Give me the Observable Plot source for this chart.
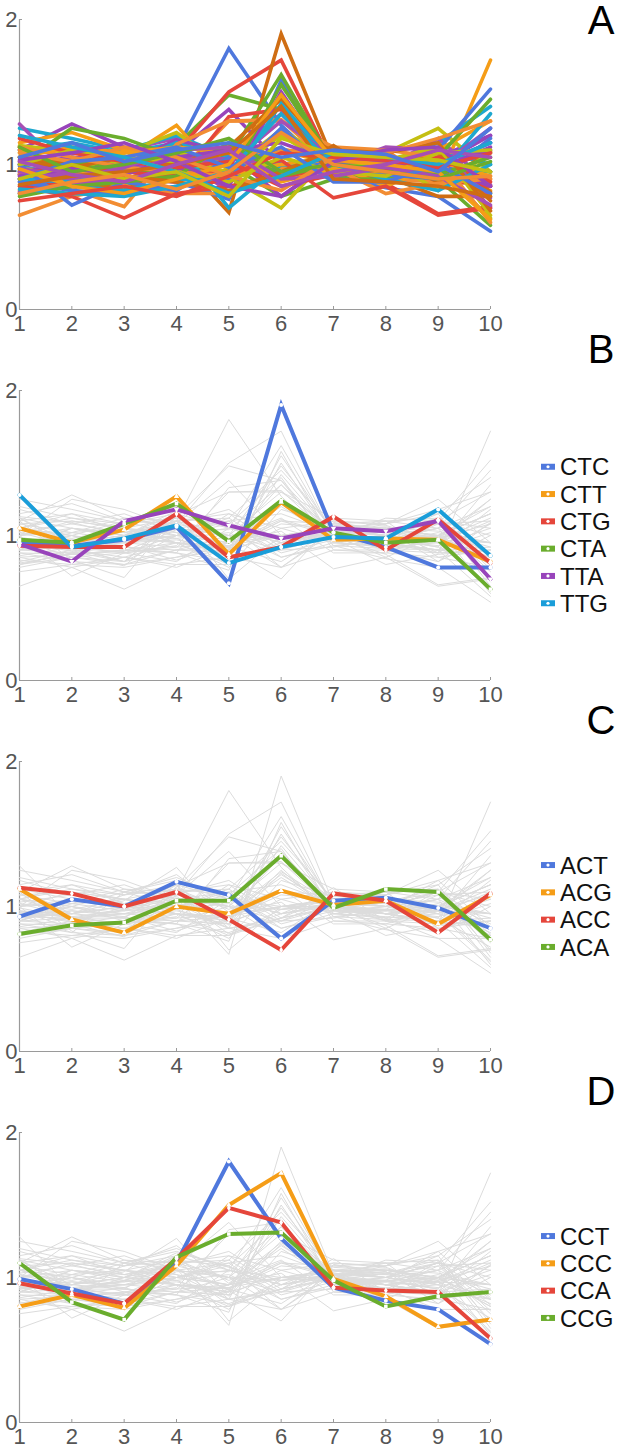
<!DOCTYPE html>
<html>
<head>
<meta charset="utf-8">
<script src="https://cdn.jsdelivr.net/npm/d3@7"></script>
<script src="https://cdn.jsdelivr.net/npm/@observablehq/plot@0.6"></script>
<style>
  html, body { margin: 0; padding: 0; background: #fff; }
  #wrap { position: relative; width: 617px; height: 1451px; overflow: hidden; font-family: "Liberation Sans", Arial, sans-serif; }
  #wrap > svg { position: absolute; left: 0; }
</style>
</head>
<body>
<div id="wrap"></div>
<script>
// ---- data ----
const positions = [1, 2, 3, 4, 5, 6, 7, 8, 9, 10];
const yTicks = [0, 1, 2];

// codons in plotting order of panel A
const codons = [
  "CCT","ATT","CCA","CCC","GTT","CTC","ATA","GTG","TTA","GTA",
  "TTT","CTT","TTC","GTC","TCG","CTG","GCC","CTA","TTG","TCA",
  "ATC","GCT","AGT","TCT","ACT","ACG","GCA","ACC","ACA","CCG",
  "AGC","ATG","GCG","TCC","TAT","TAC","CAT","CAC","CAA","CAG",
  "AAT","AAC","AAA","AAG","GAT","GAC","GAA","GAG","TGT","TGC",
  "TGG","CGT","CGC","CGA","CGG","AGA","AGG","GGT","GGC","GGA","GGG"
];

// ratio per codon at positions 1..10 (same order as codons)
const ratios = [
  [0.99, 0.92, 0.82, 1.10, 1.80, 1.27, 0.93, 0.84, 0.78, 0.54], // CCT
  [0.82, 0.90, 0.85, 0.95, 0.93, 1.10, 1.00, 0.95, 0.88, 1.72], // ATT
  [0.96, 0.89, 0.82, 1.13, 1.48, 1.38, 0.93, 0.91, 0.90, 0.58], // CCA
  [0.80, 0.88, 0.79, 1.08, 1.50, 1.72, 0.99, 0.87, 0.66, 0.71], // CCC
  [1.00, 1.05, 1.02, 1.08, 1.38, 1.00, 1.03, 1.00, 1.05, 1.20], // GTT
  [0.95, 0.93, 0.97, 1.06, 0.67, 1.90, 1.02, 0.92, 0.78, 0.78], // CTC
  [1.10, 1.15, 1.08, 1.15, 1.05, 0.95, 1.02, 1.00, 1.15, 1.40], // ATA
  [0.95, 1.00, 1.10, 1.08, 1.00, 0.98, 1.00, 1.08, 1.25, 0.95], // GTG
  [0.94, 0.82, 1.10, 1.18, 1.07, 0.98, 1.05, 1.03, 1.10, 0.70], // TTA
  [0.90, 0.92, 0.88, 0.93, 1.30, 1.30, 1.12, 1.10, 0.85, 0.90], // GTA
  [0.88, 0.87, 0.90, 0.88, 0.76, 1.58, 0.95, 0.98, 1.00, 1.15], // TTT
  [1.05, 0.95, 1.04, 1.27, 0.87, 1.23, 0.97, 0.98, 0.97, 0.82], // CTT
  [1.00, 1.02, 0.97, 1.00, 1.05, 1.62, 1.00, 0.95, 1.00, 0.80], // TTC
  [0.85, 0.87, 0.90, 0.88, 1.33, 1.38, 1.00, 0.92, 0.95, 0.85], // GTC
  [1.10, 1.28, 1.12, 1.10, 1.00, 0.90, 1.05, 1.05, 1.00, 1.20], // TCG
  [0.93, 0.92, 0.92, 1.15, 0.85, 0.92, 1.13, 0.90, 1.11, 0.81], // CTG
  [1.25, 1.18, 1.10, 1.20, 1.05, 1.00, 1.05, 1.00, 1.10, 1.00], // GCC
  [0.97, 0.95, 1.08, 1.22, 0.96, 1.24, 1.02, 0.95, 0.97, 0.63], // CTA
  [1.28, 0.92, 0.98, 1.07, 0.81, 0.92, 0.99, 0.98, 1.18, 0.86], // TTG
  [0.65, 0.78, 0.85, 0.80, 0.80, 0.98, 1.02, 0.90, 0.88, 0.90], // TCA
  [0.90, 1.05, 1.00, 0.95, 0.90, 1.00, 1.05, 1.00, 1.10, 1.52], // ATC
  [1.15, 1.22, 1.10, 1.00, 0.95, 1.00, 1.00, 0.85, 1.00, 0.95], // GCT
  [1.00, 1.25, 1.18, 1.05, 1.00, 0.78, 0.90, 0.90, 0.97, 0.95], // AGT
  [0.85, 0.78, 0.63, 0.80, 0.85, 0.90, 1.00, 0.95, 0.90, 0.85], // TCT
  [0.93, 1.05, 1.00, 1.17, 1.08, 0.78, 1.04, 1.06, 0.99, 0.85], // ACT
  [1.12, 0.91, 0.82, 1.00, 0.95, 1.11, 1.01, 1.04, 0.88, 1.08], // ACG
  [0.90, 0.88, 1.00, 1.15, 0.70, 1.00, 0.97, 0.95, 1.00, 0.95], // GCA
  [1.13, 1.09, 1.00, 1.10, 0.91, 0.70, 1.09, 1.04, 0.82, 1.09], // ACC
  [0.81, 0.87, 0.89, 1.04, 1.04, 1.35, 0.99, 1.12, 1.10, 0.77], // ACA
  [1.10, 0.83, 0.71, 1.14, 1.30, 1.31, 0.98, 0.80, 0.87, 0.90], // CCG
  [1.00, 0.72, 0.88, 0.82, 1.05, 0.95, 1.02, 1.05, 1.00, 1.15], // AGC
  [0.93, 0.95, 0.92, 0.90, 0.93, 1.00, 1.05, 1.00, 1.10, 1.30], // ATG
  [1.05, 1.00, 0.95, 0.97, 0.90, 1.55, 1.02, 0.97, 1.05, 1.45], // GCG
  [0.95, 0.97, 0.95, 0.92, 0.95, 1.03, 0.77, 0.85, 0.65, 0.70], // TCC
  [0.92, 0.95, 1.00, 0.98, 0.85, 1.50, 0.97, 1.00, 0.95, 1.10], // TAT
  [1.02, 0.98, 1.05, 1.00, 1.12, 1.45, 1.05, 1.02, 1.08, 0.75], // TAC
  [0.80, 0.85, 0.82, 0.90, 0.88, 1.42, 1.00, 0.98, 0.92, 1.35], // CAT
  [1.08, 1.10, 1.05, 1.02, 0.95, 1.20, 0.98, 1.03, 1.12, 0.65], // CAC
  [0.97, 0.92, 0.95, 1.05, 1.00, 1.30, 1.05, 1.05, 0.98, 1.25], // CAA
  [1.12, 1.05, 0.98, 0.95, 0.92, 1.10, 1.08, 1.10, 1.05, 0.60], // CAG
  [0.88, 0.82, 0.80, 0.85, 0.90, 1.25, 0.95, 0.93, 0.90, 1.18], // AAT
  [1.05, 1.12, 1.08, 1.12, 1.08, 0.88, 0.97, 0.95, 1.02, 0.92], // AAC
  [0.78, 0.85, 0.88, 0.92, 1.15, 0.92, 1.00, 0.97, 0.93, 1.05], // AAA
  [1.18, 1.08, 1.02, 0.98, 1.02, 0.85, 0.93, 0.97, 1.05, 0.88], // AAG
  [0.92, 0.97, 0.93, 1.05, 1.10, 1.15, 1.02, 1.02, 0.97, 1.12], // GAT
  [1.05, 1.00, 0.92, 0.88, 0.82, 0.95, 1.10, 1.08, 1.15, 0.68], // GAC
  [0.83, 0.80, 0.78, 0.85, 0.95, 1.35, 1.00, 0.90, 0.82, 1.00], // GAA
  [1.00, 1.10, 1.05, 0.95, 0.88, 1.05, 0.95, 0.92, 1.08, 1.10], // GAG
  [0.95, 0.90, 0.98, 1.10, 1.12, 0.90, 0.92, 0.98, 0.92, 0.72], // TGT
  [1.08, 1.02, 1.12, 1.05, 0.92, 0.82, 1.05, 1.08, 1.18, 1.30], // TGC
  [0.90, 1.02, 1.05, 1.12, 0.98, 1.12, 0.88, 0.88, 1.00, 0.80], // TGG
  [0.97, 0.85, 0.80, 0.90, 1.00, 1.48, 1.03, 1.00, 0.95, 0.62], // CGT
  [1.12, 0.95, 1.00, 1.08, 1.18, 0.95, 1.00, 0.95, 0.90, 1.02], // CGC
  [0.75, 0.80, 0.85, 0.78, 0.92, 1.08, 1.05, 1.03, 0.98, 1.08], // CGA
  [1.03, 1.08, 1.15, 1.02, 0.85, 0.78, 1.02, 1.10, 1.12, 0.85], // CGG
  [0.86, 0.92, 0.95, 1.00, 1.08, 1.40, 0.90, 0.88, 0.85, 0.78], // AGA
  [1.20, 1.12, 1.05, 0.95, 0.80, 0.92, 1.08, 1.05, 1.00, 1.15], // AGG
  [0.90, 1.00, 0.90, 0.95, 0.78, 1.18, 1.07, 1.05, 1.03, 0.95], // GGT
  [1.02, 0.93, 0.88, 1.00, 1.10, 0.85, 0.95, 1.00, 1.10, 1.05], // GGC
  [0.80, 0.88, 0.93, 0.83, 0.95, 1.22, 1.00, 0.95, 0.90, 0.92], // GGA
  [1.05, 1.15, 1.02, 1.10, 1.15, 1.05, 1.10, 1.07, 0.95, 1.25]  // GGG
];

const panelLetters = ["A", "B", "C", "D"];
const highlightB = ["CTC", "CTT", "CTG", "CTA", "TTA", "TTG"];
const highlightC = ["ACT", "ACG", "ACC", "ACA"];
const highlightD = ["CCT", "CCC", "CCA", "CCG"];

// ---- styles ----
const paletteA = ["#4f78dd", "#f59d17", "#6aad2d", "#e5463b", "#9844bb",
                  "#cf6d13", "#1fa8cf", "#c4bf12", "#a64fb5", "#f28d33"];
const highlightColors = ["#4f78dd", "#f59d17", "#e5463b", "#6aad2d", "#9844bb", "#1a9dd9"];
const markerSymbols = ["circle", "triangle", "diamond", "square", "triangle", "circle"];
const markerRotate = [0, 0, 0, 0, 180, 0];
const font = "Liberation Sans, Arial, sans-serif";

const rows = codons.flatMap((c, i) =>
  ratios[i].map((v, j) => ({codon: c, pos: positions[j], ratio: v, idx: i})));

const panelTop = [0, 371, 742, 1113];
const panelH = [371, 371, 371, 338];
const mTop = 19, plotH = 290, mLeft = 19, mRight = 127;

function frameMarks() {
  return [
    Plot.ruleY([0], {x1: 1, x2: 10, stroke: "#9a9a9a", strokeWidth: 1.2}),
    Plot.ruleX([1], {y1: 0, y2: 2, stroke: "#9a9a9a", strokeWidth: 1.2}),
    Plot.axisX({ticks: positions, tickSize: -3, tickPadding: 9, stroke: "#9a9a9a", fill: "#555",
                fontSize: 22, tickFormat: d => String(d), label: null}),
    Plot.axisY({ticks: yTicks, tickSize: -3, tickPadding: 5, stroke: "#9a9a9a", fill: "#555",
                fontSize: 22, tickFormat: d => String(d), label: null})
  ];
}

function makePlot(k, marks) {
  return Plot.plot({
    width: 617, height: panelH[k],
    marginTop: mTop, marginBottom: panelH[k] - mTop - plotH, marginLeft: mLeft, marginRight: mRight,
    x: {domain: [1, 10]},
    y: {domain: [0, 2]},
    color: {type: "identity"},
    style: {fontFamily: font, background: "transparent", overflow: "visible"},
    marks: [...frameMarks(), ...marks]
  });
}

const wrap = document.getElementById("wrap");

// Panel A
const plotA = makePlot(0, [
  Plot.line(rows, {x: "pos", y: "ratio", z: "codon", stroke: d => paletteA[d.idx % paletteA.length],
                   strokeWidth: 3.6, strokeLinejoin: "miter", strokeMiterlimit: 10})
]);
plotA.style.top = panelTop[0] + "px";
wrap.appendChild(plotA);

const highlights = [highlightB, highlightC, highlightD];
highlights.forEach((hl, h) => {
  const k = h + 1;
  const marks = [
    Plot.line(rows, {x: "pos", y: "ratio", z: "codon", stroke: "#dcdcdc", strokeWidth: 1})
  ];
  hl.forEach((c, i) => {
    const sub = rows.filter(d => d.codon === c);
    marks.push(Plot.line(sub, {x: "pos", y: "ratio", stroke: highlightColors[i], strokeWidth: 4,
                               strokeLinejoin: "miter", strokeMiterlimit: 10}));
  });
  hl.forEach((c, i) => {
    const sub = rows.filter(d => d.codon === c);
    marks.push(Plot.dot(sub, {x: "pos", y: "ratio", symbol: markerSymbols[i], rotate: markerRotate[i],
                              r: 2, fill: "white", stroke: "none"}));
  });
  const p = makePlot(k, marks);
  p.style.top = panelTop[k] + "px";
  wrap.appendChild(p);
});

// Overlay: panel letters and legends
const ov = d3.select(wrap).append("svg")
  .attr("width", 617).attr("height", 1451)
  .style("position", "absolute").style("top", "0px").style("left", "0px")
  .style("font-family", font);

panelLetters.forEach((L, k) => {
  const base = k === 0 ? 34 : panelTop[k] + mTop - 27;
  ov.append("text").attr("x", 601).attr("y", base).attr("text-anchor", "middle")
    .attr("font-size", 40).attr("fill", "#000").text(L);
});

highlights.forEach((hl, h) => {
  const k = h + 1;
  const center = panelTop[k] + mTop + plotH / 2;
  const step = 27.3;
  hl.forEach((c, i) => {
    const cy = center + (i - (hl.length - 1) / 2) * step;
    const g = ov.append("g");
    g.append("rect").attr("x", 541).attr("y", cy - 3).attr("width", 14).attr("height", 6)
      .attr("fill", highlightColors[i]);
    g.append("circle").attr("cx", 548).attr("cy", cy).attr("r", 1.6).attr("fill", "white");
    g.append("text").attr("x", 560).attr("y", cy + 8.6).attr("font-size", 24)
      .attr("fill", "#111").text(c);
  });
});
</script>
</body>
</html>
